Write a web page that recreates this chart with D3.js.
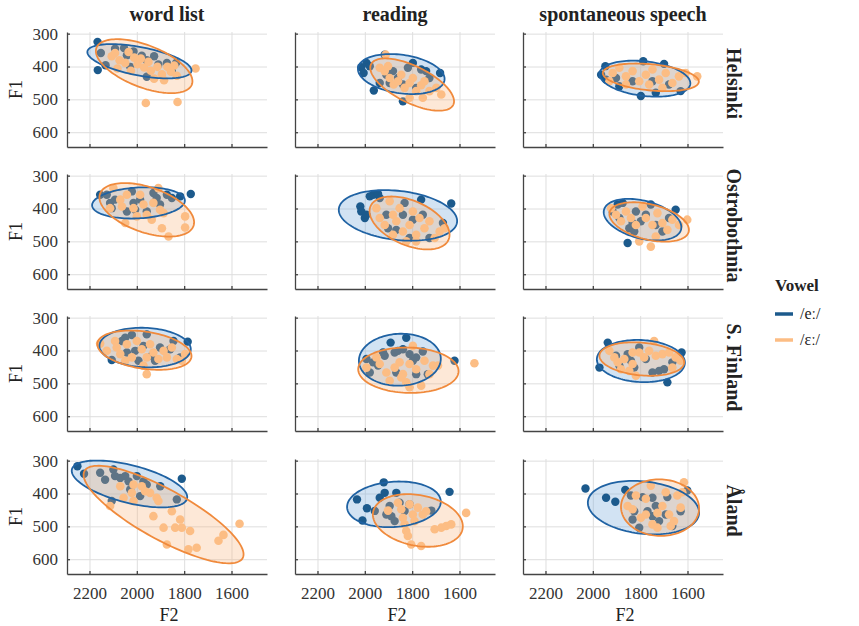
<!DOCTYPE html>
<html>
<head>
<meta charset="utf-8">
<script src="https://cdn.jsdelivr.net/npm/d3@7"></script>
<style>
body{margin:0;background:#fff;}
text{font-family:"Liberation Serif","Times New Roman",serif;fill:#222;}
.grid line{stroke:#dedede;stroke-width:1;}
.grid path{display:none;}
.axis path,.axis line{stroke:#444;stroke-width:1.3;}
</style>
</head>
<body>
<svg id="chart" width="859" height="626"></svg>
<script>
var styles = ["word list", "reading", "spontaneous speech"];
var regions = ["Helsinki", "Ostrobothnia", "S. Finland", "Åland"];
var vowels = ["/eː/", "/ɛː/"];
var f2Ticks = [2200, 2000, 1800, 1600];
var f1Ticks = [300, 400, 500, 600];

// /eː/ tokens [F2, F1], by region then speech style
var eClose = [
  [
    [[2166,325],[2152,359],[2165,411],[2132,396],[2092,346],[2054,344],[2042,366],[2014,354],[1979,367],[1958,431],[1927,369],[1909,394],[1873,389],[1834,389],[1852,414],[1958,381],[2028,401]],
    [[2015,402],[2005,420],[1993,389],[1979,399],[1962,473],[1937,450],[1916,364],[1909,425],[1881,414],[1860,435],[1839,455],[1839,506],[1818,404],[1797,389],[1762,409],[1741,414],[1727,435],[1682,420],[1895,450],[1783,465]],
    [[1947,399],[1965,425],[1944,440],[1888,460],[1797,490],[1787,384],[1734,480],[1699,392],[1629,475],[1902,435],[1832,445],[1748,445],[1678,455]]
  ],
  [
    [[2155,358],[2127,358],[2113,383],[2106,399],[2092,373],[2021,348],[2014,383],[2007,404],[1986,373],[1930,353],[1916,368],[1902,388],[1873,358],[1852,368],[1817,363],[1772,356],[2042,409],[1958,409]],
    [[2019,394],[2015,409],[2000,429],[1993,419],[1979,363],[1965,358],[1944,356],[1937,368],[1909,419],[1902,460],[1867,465],[1832,383],[1797,434],[1762,373],[1755,419],[1670,444],[1635,385],[1727,490],[1811,490],[1839,419]],
    [[1916,409],[1895,388],[1888,429],[1874,383],[1853,505],[1846,460],[1825,470],[1818,409],[1797,439],[1776,419],[1755,388],[1734,450],[1706,470],[1678,429],[1650,404],[1832,444]]
  ],
  [
    [[2106,429],[2063,371],[2049,361],[2021,353],[2007,401],[1972,386],[1958,351],[1937,416],[1923,431],[1902,391],[1859,396],[1845,371],[1817,421],[1785,373],[1993,431],[2042,406]],
    [[1993,426],[1965,436],[1944,446],[1923,406],[1916,416],[1891,376],[1874,406],[1860,401],[1839,396],[1825,361],[1811,411],[1797,431],[1783,421],[1755,403],[1734,472],[1783,472],[1867,467],[1621,431],[1979,467]],
    [[1937,376],[1972,452],[1902,416],[1853,411],[1839,431],[1825,452],[1804,391],[1776,426],[1748,467],[1720,462],[1699,457],[1685,497],[1664,436],[1625,406],[1888,446]]
  ],
  [
    [[2251,317],[2223,340],[2134,358],[2106,423],[2099,327],[2092,347],[2070,353],[2049,347],[2035,363],[2028,388],[2000,347],[1986,408],[1972,363],[1958,373],[1901,378],[1831,418],[1810,355],[2155,337]],
    [[2033,418],[2010,482],[1991,445],[1958,453],[1937,413],[1920,366],[1916,398],[1909,464],[1888,469],[1874,484],[1867,398],[1853,428],[1832,453],[1811,433],[1719,452],[1642,395],[1895,438]],
    [[2031,385],[1944,413],[1905,425],[1863,389],[1839,406],[1825,454],[1832,479],[1804,504],[1790,411],[1769,454],[1748,469],[1734,438],[1720,484],[1685,411],[1664,499],[1629,454],[1601,391],[1692,464],[1748,413]]
  ]
];

// /ɛː/ tokens [F2, F1]
var eOpen = [
  [
    [[2092,359],[2073,381],[2082,406],[2049,389],[2025,413],[2011,373],[1997,393],[1983,376],[1969,403],[1951,386],[1941,413],[1927,437],[1913,401],[1894,424],[1885,442],[1871,401],[1856,416],[1842,397],[1831,428],[1752,406],[1962,511],[1828,508],[2106,369],[2035,356]],
    [[1937,404],[1916,414],[1902,399],[1895,435],[1878,455],[1860,445],[1846,425],[1832,465],[1811,450],[1797,435],[1783,475],[1762,457],[1748,445],[1727,475],[1698,465],[1677,485],[1912,364],[1811,495],[1755,495]],
    [[1916,420],[1888,404],[1860,430],[1832,414],[1804,445],[1776,425],[1748,409],[1720,440],[1692,420],[1664,450],[1636,430],[1608,420],[1559,430],[1762,455],[1860,455],[1706,465],[1930,445]]
  ],
  [
    [[2099,338],[2070,373],[2063,394],[2049,444],[2042,358],[2014,399],[1986,358],[1972,388],[1958,419],[1937,434],[1930,383],[1909,338],[1902,404],[1887,414],[1894,460],[1866,485],[1796,424],[1796,458],[2113,399],[2000,424]],
    [[1951,399],[1937,429],[1916,450],[1895,378],[1881,419],[1867,439],[1853,399],[1839,470],[1825,500],[1811,450],[1797,409],[1783,480],[1769,429],[1748,460],[1727,439],[1705,490],[1684,470],[1663,460],[1783,500],[1881,480]],
    [[1923,399],[1902,419],[1881,439],[1860,409],[1839,429],[1818,450],[1804,500],[1776,429],[1755,516],[1748,450],[1727,414],[1706,444],[1685,465],[1664,434],[1636,450],[1601,434],[1790,394],[1734,485]]
  ],
  [
    [[2155,379],[2127,401],[2092,371],[2085,391],[2070,411],[2042,381],[2021,421],[2000,371],[1979,396],[1958,421],[1958,472],[1944,381],[1930,406],[1909,426],[1887,401],[1873,421],[1852,391],[1831,426],[1810,431],[1796,411],[2049,431],[1972,446]],
    [[1993,452],[1951,421],[1937,441],[1909,467],[1895,492],[1874,452],[1853,436],[1839,472],[1825,497],[1811,441],[1797,386],[1783,457],[1811,512],[1762,507],[1748,431],[1727,472],[1712,446],[1691,446],[1537,439],[1846,482]],
    [[1930,401],[1909,421],[1895,436],[1881,457],[1867,426],[1846,462],[1832,406],[1818,477],[1804,406],[1783,421],[1762,401],[1741,371],[1734,416],[1706,411],[1678,406],[1650,421],[1629,431],[1664,452],[1832,441]]
  ],
  [
    [[2113,438],[2070,378],[2056,413],[2021,398],[2014,373],[2014,423],[1979,378],[1965,393],[1944,398],[1916,413],[1930,469],[1887,504],[1852,454],[1873,555],[1838,504],[1817,479],[1810,504],[1775,514],[1782,570],[1747,565],[1655,544],[1634,526],[1566,492],[1909,423]],
    [[1902,452],[1860,428],[1846,448],[1839,474],[1832,494],[1825,514],[1811,433],[1797,464],[1804,555],[1790,484],[1776,443],[1762,560],[1755,464],[1741,454],[1705,509],[1677,504],[1656,499],[1635,494],[1572,459],[1818,529]],
    [[1853,438],[1832,448],[1818,406],[1797,474],[1776,416],[1755,376],[1748,494],[1727,504],[1706,438],[1692,396],[1678,464],[1671,499],[1657,484],[1643,406],[1629,443],[1622,396],[1615,366],[1727,459],[1776,464]]
  ]
];

// ellipses: [centre F2, centre F1, F2 offset to tip, F1 offset to tip, F1 half height at centre]
var ellClose = [
  [[1989,384,220,-28,44], [1846,423,183,-15,59], [1780,437,192,-14,53]],
  [[1993,383,196,7,47],   [1860,421,250,-17,75], [1790,434,164,-23,59]],
  [[1965,391,193,-5,60],  [1852,428,173,3,79],   [1797,432,186,-5,64]],
  [[2031,371,244,-40,59], [1877,433,198,8,69],   [1786,443,235,-15,80]]
];
var ellOpen = [
  [[1969,399,204,-46,68], [1800,455,177,-51,61], [1755,433,203,-13,40]],
  [[1958,404,200,-38,72], [1811,444,169,-36,72], [1762,441,168,-24,55]],
  [[1968,399,199,-18,57], [1816,460,212,-3,69],  [1793,426,179,-10,50]],
  [[1887,464,338,-121,86],[1776,482,190,-18,78], [1716,443,165,-2,86]]
];

var blue = "#1c5a8c", blueLine = "#1f62a3", blueFill = "#7fb0dc";
var orange = "#fcbd84", orangeLine = "#f08a3c", orangeFill = "#f9b27a";

var svg = d3.select("#chart");
var colLeft = [67, 295, 523],
    rowTop = [32, 174, 316, 459],
    pw = 200, ph = 115;

var x = d3.scaleLinear().domain([2295, 1450]).range([0, pw]);
var y = d3.scaleLinear().domain([295, 645]).range([0, ph]);

var ellLine = d3.line()
    .x(function(d){ return x(d[0]); })
    .y(function(d){ return y(d[1]); })
    .curve(d3.curveLinearClosed);

function ellipsePts(e){
    return d3.range(0, 360, 3).map(function(a){
        var t = a * Math.PI / 180;
        return [e[0] + Math.cos(t) * e[2], e[1] + Math.cos(t) * e[3] + Math.sin(t) * e[4]];
    });
}

// column titles
svg.selectAll(".title")
    .data(styles)
    .enter()
    .append("text")
    .attr("class", "title")
    .attr("x", function(d, i){ return colLeft[i] + pw / 2; })
    .attr("y", 21)
    .attr("text-anchor", "middle")
    .style("font-size", "20px")
    .style("font-weight", "bold")
    .text(function(d){ return d; });

regions.forEach(function(reg, r){
    styles.forEach(function(sty, s){
        var g = svg.append("g")
            .attr("transform", "translate(" + colLeft[s] + "," + rowTop[r] + ")");

        g.append("g").attr("class", "grid")
            .call(d3.axisLeft(y).tickValues(f1Ticks).tickSize(-pw).tickFormat(""));
        g.append("g").attr("class", "grid")
            .attr("transform", "translate(0," + ph + ")")
            .call(d3.axisBottom(x).tickValues(f2Ticks).tickSize(-ph).tickFormat(""));

        // blue fill + points, then orange fill + points
        g.append("path")
            .attr("d", ellLine(ellipsePts(ellClose[r][s])))
            .style("fill", blueFill).style("fill-opacity", 0.35).style("stroke", "none");
        g.selectAll(".pc")
            .data(eClose[r][s])
            .enter()
            .append("circle")
            .attr("class", "pc")
            .attr("cx", function(d){ return x(d[0]); })
            .attr("cy", function(d){ return y(d[1]); })
            .attr("r", 4.2)
            .style("fill", blue);

        g.append("path")
            .attr("d", ellLine(ellipsePts(ellOpen[r][s])))
            .style("fill", orangeFill).style("fill-opacity", 0.3).style("stroke", "none");
        g.selectAll(".po")
            .data(eOpen[r][s])
            .enter()
            .append("circle")
            .attr("class", "po")
            .attr("cx", function(d){ return x(d[0]); })
            .attr("cy", function(d){ return y(d[1]); })
            .attr("r", 4.3)
            .style("fill", orange);

        g.append("path")
            .attr("d", ellLine(ellipsePts(ellClose[r][s])))
            .style("fill", "none").style("stroke", blueLine).style("stroke-width", 1.8);
        g.append("path")
            .attr("d", ellLine(ellipsePts(ellOpen[r][s])))
            .style("fill", "none").style("stroke", orangeLine).style("stroke-width", 1.8);

        // axes
        var yAxis = d3.axisLeft(y).tickValues(f1Ticks).tickSize(-3).tickSizeOuter(0).tickPadding(9).tickFormat(d3.format("d"));
        if(s > 0) yAxis.tickFormat("");
        g.append("g").attr("class", "axis")
            .call(yAxis)
            .selectAll("text")
            .style("font-size", "17px")
            .style("fill", "#333");

        var xAxis = d3.axisBottom(x).tickValues(f2Ticks).tickSize(-3).tickSizeOuter(0).tickPadding(13).tickFormat(d3.format("d"));
        if(r < 3) xAxis.tickFormat("");
        g.append("g").attr("class", "axis")
            .attr("transform", "translate(0," + ph + ")")
            .call(xAxis)
            .selectAll("text")
            .style("font-size", "17px")
            .style("fill", "#333");

        if(s == 0){
            svg.append("text")
                .attr("transform", "translate(22," + (rowTop[r] + ph / 2) + ") rotate(-90)")
                .attr("text-anchor", "middle")
                .style("font-size", "18px")
                .text("F1");
        }
        if(r == 3){
            svg.append("text")
                .attr("x", colLeft[s] + pw / 2 + 2)
                .attr("y", 621)
                .attr("text-anchor", "middle")
                .style("font-size", "18px")
                .text("F2");
        }
        if(s == 2){
            svg.append("text")
                .attr("transform", "translate(727," + (rowTop[r] + ph / 2 - 6) + ") rotate(90)")
                .attr("text-anchor", "middle")
                .style("font-size", "20px")
                .style("font-weight", "bold")
                .text(reg);
        }
    });
});

// legend
var legend = svg.append("g").attr("transform", "translate(775,0)");
legend.append("text")
    .attr("x", 0).attr("y", 291)
    .style("font-size", "17px")
    .style("font-weight", "bold")
    .text("Vowel");

legend.selectAll(".lg")
    .data(vowels)
    .enter()
    .append("line")
    .attr("x1", 0).attr("x2", 18)
    .attr("y1", function(d, i){ return 314 + i * 26; })
    .attr("y2", function(d, i){ return 314 + i * 26; })
    .style("stroke", function(d, i){ return i == 0 ? blue : orange; })
    .style("stroke-width", 3.5);

legend.selectAll(".lt")
    .data(vowels)
    .enter()
    .append("text")
    .attr("x", 25)
    .attr("y", function(d, i){ return 319 + i * 26; })
    .style("font-size", "16px")
    .text(function(d){ return d; });
</script>
</body>
</html>
